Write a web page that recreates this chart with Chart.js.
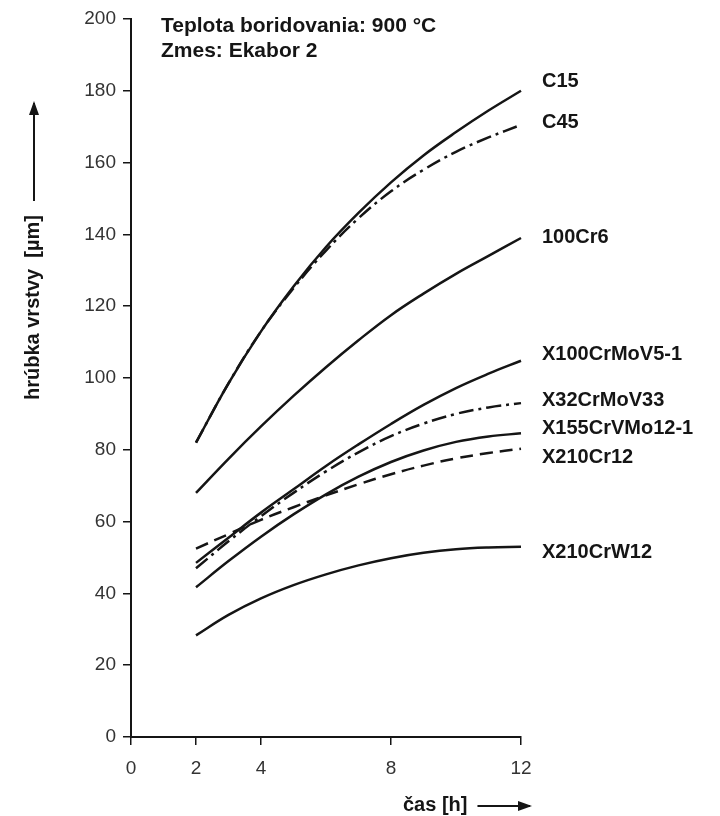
<!DOCTYPE html>
<html>
<head>
<meta charset="utf-8">
<script src="https://cdn.jsdelivr.net/npm/chart.js@4.4.0/dist/chart.umd.min.js"></script>
<style>
  html, body { margin: 0; padding: 0; background: #ffffff; }
  canvas { display: block; }
</style>
</head>
<body>
<canvas id="myChart" width="720" height="816"></canvas>
<script>
// dati (hrúbka vrstvy v µm)
const hours = [2, 3, 4, 5, 6, 7, 8, 9, 10, 11, 12];
const xTicks = [0, 2, 4, 8, 12];

const c15       = [82, 98.5, 113, 125.5, 136.5, 146, 154.5, 162, 168.5, 174.5, 180];
const c45       = [82, 98.5, 113, 125, 135.5, 144.5, 152, 158, 163, 167, 170.5];
const cr6       = [68, 77.5, 86.5, 95, 103, 110.5, 117.5, 123.5, 129, 134, 139];
const x100      = [48.5, 55.5, 62.5, 69, 75.5, 81.5, 87.2, 92.5, 97.2, 101.2, 104.8];
const x32       = [47, 54.5, 61.5, 68, 74, 79.3, 83.8, 87.3, 90, 91.8, 93];
const x155      = [41.7, 49, 55.8, 62, 67.6, 72.5, 76.6, 79.8, 82.2, 83.7, 84.6];
const x210cr12  = [52.5, 56.5, 60.5, 64, 67.3, 70.4, 73.2, 75.6, 77.6, 79.1, 80.3];
const x210crw12 = [28.3, 34, 38.6, 42.3, 45.3, 47.8, 49.8, 51.3, 52.3, 52.8, 53];

const names = ['C15', 'C45', '100Cr6', 'X100CrMoV5-1', 'X32CrMoV33', 'X155CrVMo12-1', 'X210Cr12', 'X210CrW12'];
const series = [c15, c45, cr6, x100, x32, x155, x210cr12, x210crw12];

const FONT = "'Liberation Sans', Arial, Helvetica, sans-serif";
const ink = '#151515';

// stile delle linee: continua, tratto-punto, tratteggiata
const dashFor = {
  'C45': [15, 5, 3, 5],
  'X32CrMoV33': [15, 5, 3, 5],
  'X210Cr12': [13, 7]
};
// piccoli spostamenti verticali delle etichette (px)
const labelNudge = [-9, -2, -1, -6, -3, -5, 9, 6];

const datasets = series.map((vals, i) => ({
  label: names[i],
  data: hours.map((h, j) => ({ x: h, y: vals[j] })),
  borderColor: ink,
  borderWidth: 2.5,
  borderDash: dashFor[names[i]] || [],
  pointRadius: 0,
  fill: false,
  tension: 0.4,
  clip: false
}));

function arrow(ctx, x1, y1, x2, y2) {
  ctx.beginPath();
  ctx.moveTo(x1, y1);
  ctx.lineTo(x2, y2);
  ctx.lineWidth = 2;
  ctx.stroke();
  const a = Math.atan2(y2 - y1, x2 - x1);
  ctx.beginPath();
  ctx.moveTo(x2 + Math.cos(a) * 2, y2 + Math.sin(a) * 2);
  ctx.lineTo(x2 - Math.cos(a) * 12 + Math.sin(a) * 5, y2 - Math.sin(a) * 12 - Math.cos(a) * 5);
  ctx.lineTo(x2 - Math.cos(a) * 12 - Math.sin(a) * 5, y2 - Math.sin(a) * 12 + Math.cos(a) * 5);
  ctx.closePath();
  ctx.fill();
}

const decorations = {
  id: 'decorations',
  afterDraw(chart) {
    const ctx = chart.ctx;
    ctx.save();
    ctx.fillStyle = ink;
    ctx.strokeStyle = ink;

    // etichette delle curve
    ctx.font = 'bold 20px ' + FONT;
    ctx.textAlign = 'left';
    ctx.textBaseline = 'middle';
    chart.data.datasets.forEach((ds, i) => {
      const pts = chart.getDatasetMeta(i).data;
      const last = pts[pts.length - 1];
      ctx.fillText(ds.label, last.x + 21, last.y + labelNudge[i]);
    });

    // titolo
    ctx.font = 'bold 21px ' + FONT;
    ctx.fillText('Teplota boridovania: 900 °C', 161, 26);
    ctx.fillText('Zmes: Ekabor 2', 161, 51);

    // asse x
    ctx.font = 'bold 20px ' + FONT;
    const xt = 'čas [h]';
    ctx.fillText(xt, 403, 805);
    const xw = ctx.measureText(xt).width;
    arrow(ctx, 403 + xw + 10, 806, 530, 806);

    // asse y
    ctx.translate(33, 400);
    ctx.rotate(-Math.PI / 2);
    const yt = 'hrúbka vrstvy  [µm]';
    ctx.fillText(yt, 0, 0);
    const yw = ctx.measureText(yt).width;
    arrow(ctx, yw + 14, 1, 297, 1);
    ctx.restore();
  }
};

new Chart(document.getElementById('myChart').getContext('2d'), {
  type: 'line',
  data: { datasets: datasets },
  options: {
    responsive: false,
    animation: false,
    layout: { padding: { top: 19, right: 199, left: 0, bottom: 0 } },
    plugins: {
      legend: { display: false },
      tooltip: { enabled: false }
    },
    scales: {
      x: {
        type: 'linear',
        min: 0,
        max: 12,
        afterBuildTicks: s => { s.ticks = xTicks.map(v => ({ value: v })); },
        afterFit: s => { s.height = 79; },
        grid: { drawOnChartArea: false, drawTicks: true, tickLength: 8, color: ink, lineWidth: 1.5 },
        border: { display: true, color: ink, width: 2 },
        ticks: { color: '#333333', padding: 12, maxRotation: 0, font: { family: FONT, size: 19 } }
      },
      y: {
        min: 0,
        max: 200,
        afterFit: s => { s.width = 131; },
        grid: { drawOnChartArea: false, drawTicks: true, tickLength: 8, color: ink, lineWidth: 1.5 },
        border: { display: true, color: ink, width: 2 },
        ticks: { stepSize: 20, color: '#333333', padding: 7, font: { family: FONT, size: 19 } }
      }
    }
  },
  plugins: [decorations]
});
</script>
</body>
</html>
